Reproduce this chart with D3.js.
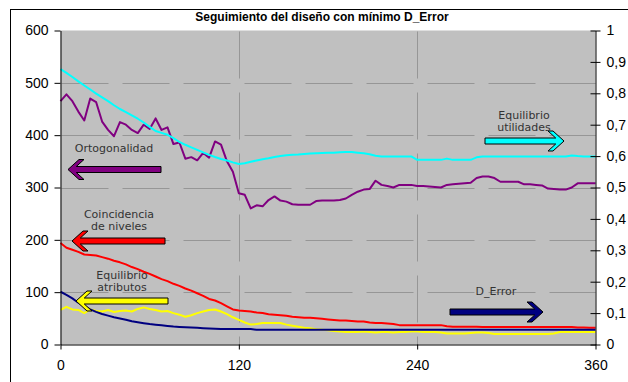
<!DOCTYPE html>
<html>
<head>
<meta charset="utf-8">
<script src="https://cdn.jsdelivr.net/npm/d3@7"></script>
<style>
  body { margin: 0; background: #fff; }
  svg { display: block; }
</style>
</head>
<body>
<div id="chart"></div>
<script>
// Data (x = iteración, every 4 steps)
const iteraciones = [0,4,8,12,16,20,24,28,32,36,40,44,48,52,56,60,64,68,72,76,80,84,88,92,96,100,
  104,108,112,116,120,124,128,132,136,140,144,148,152,156,160,164,168,172,176,180,184,188,192,196,200,
  204,208,212,216,220,224,228,232,236,240,244,248,252,256,260,264,268,272,276,280,284,288,292,296,300,
  304,308,312,316,320,324,328,332,336,340,344,348,352,356,360];

// left axis (0-600)
const ortogonalidad = [465,478,465,445,428,470,463,426,410,398,
  425,420,410,404,420,412,432,410,415,383,
  386,355,358,352,366,357,388,382,350,330,
  289,286,260,266,264,276,283,275,273,268,
  267,267,267,274,275,275,275,276,279,286,
  292,296,297,313,305,303,300,305,305,305,
  303,303,302,301,300,305,306,307,308,309,
  318,321,321,318,311,311,311,311,306,306,
  305,304,298,297,296,296,300,308,308,308,
  308];

const coincidenciaNiveles = [194,185,181,177,172,171,170,167,164,160,
  157,153,148,144,139,135,130,125,121,116,
  112,107,103,98,93,87,84,79,73,67,
  65,64,63,61,60,58,57,56,55,53,
  52,51,51,50,49,48,47,46,46,45,
  44,44,42,41,41,40,39,37,37,37,
  37,37,37,37,37,35,34,34,34,34,
  34,33.5,33.5,33.5,33.5,33.5,33.5,33.5,33.5,33.5,
  33.5,33.5,33.5,33.5,33.5,33.5,33.5,32.3,32.3,32,
  32];

const equilibrioAtributos = [66,72,67,66,60,67,64,63,66,62,
  64,65,63,68,71,68,66,63,64,60,
  57,53,56,60,63,66,67,63,58,52,
  47,42,38,39,41,41,41,41,38,36,
  34,32,31,29,28,27,26,25,24,24,
  24,25,24,23,24,24,23,24,24,25,
  25,24,24,24,23,21,21,21,21,22,
  23,23,22,20,20,20,20,20,20,20,
  20,20,20,21,24,24,24,24,24,24,
  24];

// right axis (0-1)
const dError = [0.168,0.158,0.147,0.133,0.122,0.112,0.104,0.097,0.092,0.087,
  0.083,0.079,0.074,0.071,0.068,0.065,0.063,0.061,0.059,0.057,
  0.056,0.055,0.054,0.053,0.052,0.051,0.050,0.049,0.049,0.049,
  0.049,0.049,0.049,0.047,0.047,0.047,0.047,0.047,0.047,0.047,
  0.047,0.047,0.047,0.047,0.047,0.047,0.047,0.047,0.047,0.047,
  0.047,0.047,0.047,0.047,0.047,0.047,0.047,0.047,0.047,0.047,
  0.047,0.047,0.047,0.047,0.047,0.047,0.047,0.047,0.047,0.047,
  0.047,0.047,0.047,0.047,0.047,0.047,0.047,0.047,0.047,0.047,
  0.047,0.047,0.047,0.047,0.047,0.047,0.047,0.047,0.047,0.047,
  0.047];

const equilibrioUtilidades = [0.877,0.865,0.852,0.838,0.825,0.812,0.799,0.787,0.775,0.762,
  0.750,0.740,0.730,0.719,0.707,0.693,0.680,0.674,0.668,0.657,
  0.645,0.636,0.628,0.620,0.612,0.604,0.597,0.591,0.586,0.580,
  0.575,0.577,0.582,0.586,0.590,0.593,0.597,0.600,0.603,0.604,
  0.605,0.607,0.608,0.609,0.610,0.611,0.611,0.612,0.613,0.613,
  0.611,0.609,0.606,0.601,0.599,0.599,0.599,0.599,0.599,0.599,
  0.588,0.588,0.588,0.588,0.588,0.592,0.588,0.588,0.588,0.588,
  0.596,0.599,0.599,0.599,0.599,0.599,0.599,0.599,0.599,0.599,
  0.599,0.599,0.599,0.599,0.599,0.599,0.602,0.600,0.599,0.599,
  0.599];

// Tick labels
const xTicks = [0, 120, 240, 360];
const leftTicks = [0, 100, 200, 300, 400, 500, 600];
const rightTicks = [0, 0.1, 0.2, 0.3, 0.4, 0.5, 0.6, 0.7, 0.8, 0.9, 1];
const rightTickLabels = ['0', '0,1', '0,2', '0,3', '0,4', '0,5', '0,6', '0,7', '0,8', '0,9', '1'];

const title = 'Seguimiento del diseño con mínimo D_Error';

// Series in drawing order (primary axis first, like Excel)
const series = [
  { name: 'Ortogonalidad', values: ortogonalidad, axis: 'left', color: '#800080' },
  { name: 'Coincidencia de niveles', values: coincidenciaNiveles, axis: 'left', color: '#ff0000' },
  { name: 'Equilibrio atributos', values: equilibrioAtributos, axis: 'left', color: '#ffff00' },
  { name: 'D_Error', values: dError, axis: 'right', color: '#000080' },
  { name: 'Equilibrio utilidades', values: equilibrioUtilidades, axis: 'right', color: '#00ffff' }
];

// Text boxes + block arrows drawn over the plot (pixel layout)
const notes = [
  { lines: ['Ortogonalidad'], tx: 114, ty: [151.5], tail: 161, tip: 68, cy: 169.5, color: '#800080' },
  { lines: ['Coincidencia', 'de  niveles'], tx: 119, ty: [217.5, 230], tail: 165, tip: 72, cy: 241, color: '#ff0000' },
  { lines: ['Equilibrio', 'atributos'], tx: 122, ty: [278.5, 291], tail: 168, tip: 76, cy: 301, color: '#ffff00' },
  { lines: ['D_Error'], tx: 496, ty: [295], tail: 450, tip: 543, cy: 312, color: '#000080' },
  { lines: ['Equilibrio', 'utilidades'], tx: 524, ty: [118.5, 131], tail: 485, tip: 564, cy: 141, color: '#00ffff' }
];

const W = 628, H = 382;
const plot = { left: 60.5, right: 595.5, top: 30.5, bottom: 344.5 };

const svg = d3.select('#chart')
  .append('svg')
  .attr('width', W)
  .attr('height', H);

// Outer chart frame
svg.append('rect')
  .attr('x', 10.5).attr('y', 9.5)
  .attr('width', 700).attr('height', 400)
  .attr('fill', 'none')
  .attr('stroke', '#000');

// Scales
const x = d3.scaleLinear().domain([0, 360]).range([plot.left, plot.right]);
const yLeft = d3.scaleLinear().domain([0, 600]).range([plot.bottom, plot.top]);
const yRight = d3.scaleLinear().domain([0, 1]).range([plot.bottom, plot.top]);

// Plot area background
svg.append('rect')
  .attr('x', plot.left).attr('y', plot.top)
  .attr('width', plot.right - plot.left)
  .attr('height', plot.bottom - plot.top)
  .attr('fill', '#c0c0c0');

// Dashed grid lines
const grid = svg.append('g').attr('stroke', '#969696').attr('stroke-dasharray', '47,14');
grid.selectAll('line.h')
  .data(leftTicks.filter(t => t > 0 && t < 600))
  .enter().append('line')
  .attr('class', 'h')
  .attr('x1', plot.left + 1).attr('x2', plot.right)
  .attr('y1', d => Math.round(yLeft(d)) + 0.5)
  .attr('y2', d => Math.round(yLeft(d)) + 0.5);
grid.selectAll('line.v')
  .data(xTicks.filter(t => t > 0 && t < 360))
  .enter().append('line')
  .attr('class', 'v')
  .attr('x1', d => Math.round(x(d)) + 0.5).attr('x2', d => Math.round(x(d)) + 0.5)
  .attr('y1', plot.top + 1).attr('y2', plot.bottom);

// Lines
const lineFor = s => d3.line()
  .x((d, i) => x(iteraciones[i]))
  .y(d => (s.axis === 'left' ? yLeft : yRight)(d));

svg.append('g')
  .selectAll('path')
  .data(series)
  .enter()
  .append('path')
  .attr('d', s => lineFor(s)(s.values))
  .attr('fill', 'none')
  .attr('stroke', s => s.color)
  .attr('stroke-width', 2)
  .attr('stroke-linejoin', 'round');

// Axes
const axisFont = 'Liberation Sans, Arial, sans-serif';

const leftAxis = svg.append('g')
  .attr('transform', `translate(${plot.left},0)`)
  .call(d3.axisLeft(yLeft).tickValues(leftTicks).tickSize(6).tickSizeOuter(0).tickPadding(6));

const rightAxis = svg.append('g')
  .attr('transform', `translate(${plot.right},0)`)
  .call(d3.axisRight(yRight).tickValues(rightTicks).tickSize(5).tickSizeOuter(0).tickPadding(6)
    .tickFormat((d, i) => rightTickLabels[i]));
rightAxis.selectAll('.tick line').attr('x1', -5);

const bottomAxis = svg.append('g')
  .attr('transform', `translate(0,${plot.bottom})`)
  .call(d3.axisBottom(x).tickValues(xTicks).tickSize(5).tickSizeOuter(0).tickPadding(11));

[leftAxis, rightAxis, bottomAxis].forEach(a => {
  a.selectAll('path, line').attr('stroke', '#000');
  a.selectAll('text')
    .attr('fill', '#000')
    .style('font-family', axisFont)
    .style('font-size', '14px');
});

// Title
svg.append('text')
  .attr('x', 322).attr('y', 21)
  .attr('text-anchor', 'middle')
  .style('font-family', axisFont)
  .style('font-size', '12px')
  .style('font-weight', 'bold')
  .text(title);

// Block arrow with a chevron head
const arrowPoints = (tail, tip, cy) => {
  const dir = tip > tail ? 1 : -1;
  const s = 6, h = 20, L = 11, w = 5;
  const inner = tip - dir * (w + L * s / h);
  return [
    [tail, cy - s / 2], [inner, cy - s / 2],
    [tip - dir * (w + L), cy - h / 2], [tip - dir * L, cy - h / 2],
    [tip, cy],
    [tip - dir * L, cy + h / 2], [tip - dir * (w + L), cy + h / 2],
    [inner, cy + s / 2], [tail, cy + s / 2]
  ];
};

const noteG = svg.append('g')
  .selectAll('g')
  .data(notes)
  .enter()
  .append('g');

noteG.append('polygon')
  .attr('points', d => arrowPoints(d.tail, d.tip, d.cy).map(p => p.join(',')).join(' '))
  .attr('fill', d => d.color)
  .attr('stroke', '#000')
  .attr('stroke-width', 1)
  .attr('stroke-linejoin', 'miter');

noteG.each(function (d) {
  d.lines.forEach((t, i) => {
    d3.select(this).append('text')
      .attr('x', d.tx).attr('y', d.ty[i])
      .attr('text-anchor', 'middle')
      .attr('fill', '#333')
      .style('font-family', 'DejaVu Sans, Verdana, sans-serif')
      .style('font-size', '11px')
      .text(t);
  });
});
</script>
</body>
</html>
